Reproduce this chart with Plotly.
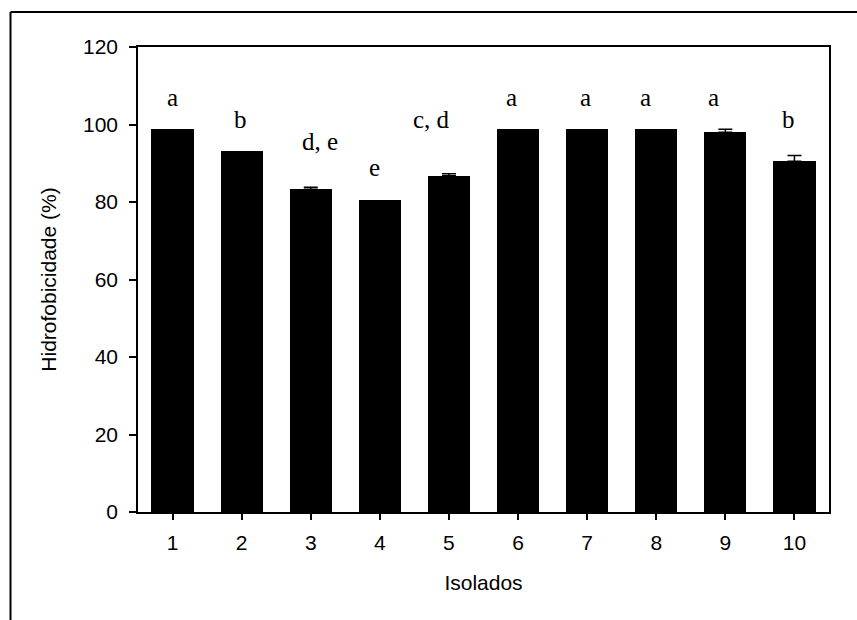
import plotly.graph_objects as go

# Surface hydrophobicity of each isolate (mean %, upper standard error)
isolados = [1, 2, 3, 4, 5, 6, 7, 8, 9, 10]
hidrofobicidade = [98.8, 93.1, 83.3, 80.5, 86.8, 98.8, 98.8, 98.8, 98.0, 90.5]
erro = [0.0, 0.0, 0.5, 0.0, 0.5, 0.0, 0.0, 0.0, 0.8, 1.5]

# Significance letters (Tukey grouping)
letras = ["a", "b", "d, e", "e", "c, d", "a", "a", "a", "a", "b"]
letra_y = [103.0, 97.4, 91.6, 84.9, 97.4, 103.0, 103.0, 103.0, 103.0, 97.4]
letra_dx = [0, -1, 9, -5, -17, -7, -2, -11, -12, -6]

W, H = 857, 620
L, R, T, B = 138, 28, 47, 108
pw, ph = W - L - R, H - T - B

fig = go.Figure()
fig.add_trace(go.Bar(
    x=isolados,
    y=hidrofobicidade,
    width=0.61,
    marker=dict(color="black", line=dict(width=0)),
    showlegend=False,
    hoverinfo="x+y",
))

# upper error bars, only where an error was measured
idx = [i for i, e in enumerate(erro) if e > 0]
fig.add_trace(go.Scatter(
    x=[isolados[i] for i in idx],
    y=[hidrofobicidade[i] for i in idx],
    mode="markers",
    marker=dict(size=1, color="rgba(0,0,0,0)"),
    error_y=dict(type="data", array=[erro[i] for i in idx], arrayminus=[0] * len(idx),
                 color="black", thickness=1.5, width=7, visible=True),
    showlegend=False,
    hoverinfo="skip",
))

for xi, txt, yi, dx in zip(isolados, letras, letra_y, letra_dx):
    fig.add_annotation(
        x=xi, y=yi, text=txt, showarrow=False,
        xanchor="center", yanchor="bottom", xshift=dx,
        font=dict(family="Liberation Serif, Times New Roman, serif", size=25, color="black"),
    )

# Outer frame: left and top edges of the figure box
def px_x(p):
    return (p - L) / pw

def px_y(p):
    return (H - B - p) / ph

fig.add_shape(type="line", xref="paper", yref="paper",
              x0=px_x(10.5), x1=px_x(10.5), y0=px_y(12), y1=px_y(640),
              line=dict(color="black", width=2))
fig.add_shape(type="line", xref="paper", yref="paper",
              x0=px_x(10.5), x1=px_x(880), y0=px_y(12), y1=px_y(12),
              line=dict(color="black", width=2))

axis_font = dict(family="Liberation Sans, Arial, Helvetica, sans-serif", size=21, color="black")

fig.update_layout(
    width=W, height=H,
    margin=dict(l=L, r=R, t=T, b=B),
    paper_bgcolor="white",
    plot_bgcolor="white",
    font=axis_font,
    bargap=0,
    xaxis=dict(
        range=[0.5, 10.5],
        tickmode="array", tickvals=isolados, ticktext=[str(i) for i in isolados],
        ticks="outside", ticklen=6, tickwidth=1.5, tickcolor="black",
        ticklabelstandoff=5,
        showline=True, linecolor="black", linewidth=1.5, mirror=True,
        showgrid=False, zeroline=False,
        title=dict(text="Isolados", font=axis_font, standoff=22),
        tickfont=axis_font,
    ),
    yaxis=dict(
        range=[0, 120],
        tickmode="array", tickvals=[0, 20, 40, 60, 80, 100, 120],
        ticks="outside", ticklen=7, tickwidth=1.5, tickcolor="black",
        ticklabelstandoff=7,
        showline=True, linecolor="black", linewidth=1.5, mirror=True,
        showgrid=False, zeroline=False,
        title=dict(text="Hidrofobicidade (%)", font=axis_font, standoff=21),
        tickfont=axis_font,
    ),
)

fig.write_html("out.html")
